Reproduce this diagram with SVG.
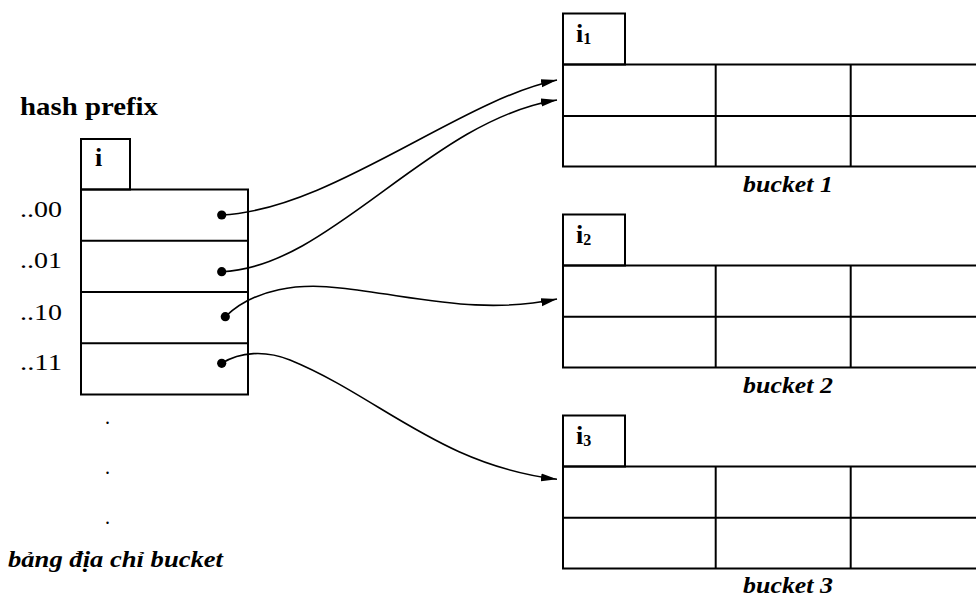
<svg xmlns="http://www.w3.org/2000/svg" width="976" height="597" viewBox="0 0 976 597">
  <style>
    .box { fill: none; stroke: #000; stroke-width: 2; }
    .lbl { font-family: "Liberation Serif", "Times New Roman", serif; fill: #000; }
    .b { font-weight: bold; }
    .bi { font-weight: bold; font-style: italic; }
    .wire { fill: none; stroke: #000; stroke-width: 1.6; }
    .dot { fill: #000; }
  </style>
  <defs>
    <marker id="arrow" markerWidth="17" markerHeight="10" refX="16" refY="5" orient="auto" markerUnits="userSpaceOnUse">
      <path d="M0,1 L16,5 L0,9 Z" fill="#000"/>
    </marker>
  </defs>
  <rect width="976" height="597" fill="#fff"/>

  <!-- directory: hash prefix table -->
  <g id="directory">
    <text class="lbl b" x="20" y="115" font-size="26" textLength="138" lengthAdjust="spacingAndGlyphs">hash prefix</text>
    <rect class="box" x="81" y="139" width="49" height="50.5"/>
    <text class="lbl b" x="95" y="166" font-size="26">i</text>
    <rect class="box" x="81" y="189.5" width="167" height="205"/>
    <line class="box" x1="81" y1="240.7" x2="248" y2="240.7"/>
    <line class="box" x1="81" y1="292" x2="248" y2="292"/>
    <line class="box" x1="81" y1="343.3" x2="248" y2="343.3"/>
    <text class="lbl" x="20" y="217" font-size="23" textLength="42" lengthAdjust="spacingAndGlyphs">..00</text>
    <text class="lbl" x="20" y="268" font-size="23" textLength="42" lengthAdjust="spacingAndGlyphs">..01</text>
    <text class="lbl" x="20" y="320" font-size="23" textLength="42" lengthAdjust="spacingAndGlyphs">..10</text>
    <text class="lbl" x="20" y="370" font-size="23" textLength="42" lengthAdjust="spacingAndGlyphs">..11</text>
    <text class="lbl" x="105" y="424" font-size="20">.</text>
    <text class="lbl" x="105" y="474" font-size="20">.</text>
    <text class="lbl" x="105" y="524" font-size="20">.</text>
    <text class="lbl bi" x="8" y="567" font-size="24" textLength="215" lengthAdjust="spacingAndGlyphs">bảng địa chỉ bucket</text>
  </g>

  <!-- bucket 1 -->
  <g id="bucket1">
    <rect class="box" x="563" y="13.5" width="62" height="51"/>
    <text class="lbl b" x="576" y="42" font-size="26">i<tspan font-size="16" dy="1.5">1</tspan></text>
    <rect class="box" x="563" y="64.5" width="420" height="102"/>
    <line class="box" x1="563" y1="116" x2="983" y2="116"/>
    <line class="box" x1="715.7" y1="64.5" x2="715.7" y2="166.5"/>
    <line class="box" x1="850.7" y1="64.5" x2="850.7" y2="166.5"/>
    <text class="lbl bi" x="743" y="192" font-size="24" textLength="90" lengthAdjust="spacingAndGlyphs">bucket 1</text>
  </g>

  <!-- bucket 2 -->
  <g id="bucket2">
    <rect class="box" x="563" y="214.5" width="62" height="51"/>
    <text class="lbl b" x="576" y="243" font-size="26">i<tspan font-size="16" dy="1.5">2</tspan></text>
    <rect class="box" x="563" y="265.5" width="420" height="102"/>
    <line class="box" x1="563" y1="316.7" x2="983" y2="316.7"/>
    <line class="box" x1="715.7" y1="265.5" x2="715.7" y2="367.5"/>
    <line class="box" x1="850.7" y1="265.5" x2="850.7" y2="367.5"/>
    <text class="lbl bi" x="743" y="393" font-size="24" textLength="90" lengthAdjust="spacingAndGlyphs">bucket 2</text>
  </g>

  <!-- bucket 3 -->
  <g id="bucket3">
    <rect class="box" x="563" y="415.5" width="62" height="51"/>
    <text class="lbl b" x="576" y="444" font-size="26">i<tspan font-size="16" dy="1.5">3</tspan></text>
    <rect class="box" x="563" y="466.5" width="420" height="102"/>
    <line class="box" x1="563" y1="517.7" x2="983" y2="517.7"/>
    <line class="box" x1="715.7" y1="466.5" x2="715.7" y2="568.5"/>
    <line class="box" x1="850.7" y1="466.5" x2="850.7" y2="568.5"/>
    <text class="lbl bi" x="743" y="593" font-size="24" textLength="90" lengthAdjust="spacingAndGlyphs">bucket 3</text>
  </g>

  <!-- pointers from directory entries to buckets -->
  <g id="connectors">
    <circle class="dot" cx="221.7" cy="215" r="4.6"/>
    <circle class="dot" cx="221.7" cy="271.7" r="4.6"/>
    <circle class="dot" cx="225.3" cy="316.7" r="4.6"/>
    <circle class="dot" cx="221.7" cy="363.3" r="4.6"/>
    <path class="wire" marker-end="url(#arrow)" d="M221.7,215 C330,210 460,100 557,80"/>
    <path class="wire" marker-end="url(#arrow)" d="M221.7,271.7 C330,268 430,120 557,100"/>
    <path class="wire" marker-end="url(#arrow)" d="M225.3,316.7 C255,288 300,283 340,288 C420,297 480,315 557,299"/>
    <path class="wire" marker-end="url(#arrow)" d="M221.7,363.3 C240,352 265,350 290,360 C380,397 440,465 557,479.3"/>
  </g>
</svg>
